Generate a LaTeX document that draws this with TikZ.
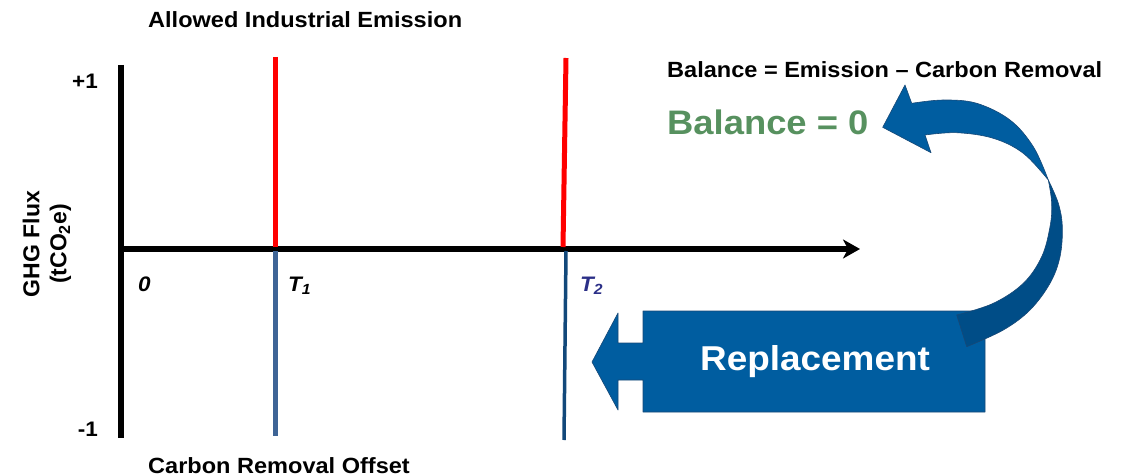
\documentclass[tikz,border=0pt]{standalone}
\usepackage{fontspec}
\setmainfont{Liberation Sans}
\newfontfamily\labfont[FakeStretch=1.07]{Liberation Sans}
\usetikzlibrary{arrows.meta}
\definecolor{boxblue}{RGB}{0,93,160}
\definecolor{darkband}{RGB}{0,77,135}
\definecolor{edgeblue}{RGB}{24,72,118}
\definecolor{redline}{RGB}{255,0,0}
\definecolor{tonebl}{RGB}{62,100,150}
\definecolor{ttwobl}{RGB}{18,72,122}
\definecolor{ttwotxt}{RGB}{43,47,135}
\definecolor{balgreen}{RGB}{87,145,95}
\tikzset{
  lab/.style={inner sep=0pt, font=\labfont\bfseries\fontsize{22}{26}\selectfont},
  tick/.style={inner sep=0pt, font=\labfont\bfseries\itshape\fontsize{21}{24}\selectfont},
  axisline/.style={line width=5.5pt, black},
  bandedge/.style={draw=edgeblue, line width=0.6pt, line join=round},
}
\begin{document}
\begin{tikzpicture}[x=1pt,y=-1pt]
\useasboundingbox (0,0) rectangle (1130,476);
% axes
\coordinate (ytop) at (121,65);
\coordinate (ybot) at (121,438);
\coordinate (orig) at (118.5,249);
\coordinate (xend) at (860,249);
\draw[axisline] (ytop) -- (ybot);
\draw[axisline, -{Stealth[length=17pt,width=19pt,inset=5pt]}] (orig) -- (xend);
% T1 lines
\coordinate (t1top) at (275,57);
\coordinate (t1mid) at (275,247);
\coordinate (t1mid2) at (275,251);
\coordinate (t1bot) at (275,436);
\draw[redline, line width=5pt] (t1top) -- (t1mid);
\draw[tonebl, line width=5pt] (t1mid2) -- (t1bot);
% T2 lines
\coordinate (t2top) at (566,58);
\coordinate (t2mid) at (563,247);
\coordinate (t2mid2) at (566,251);
\coordinate (t2bot) at (564,440);
\draw[redline, line width=5pt] (t2top) -- (t2mid);
\draw[ttwobl, line width=3.5pt] (t2mid2) -- (t2bot);
% labels
\node[lab, anchor=base west] (allowed) at (148,28) {Allowed Industrial Emission};
\node[lab, anchor=base west] (offset) at (148,473) {Carbon Removal Offset};
\node[lab, anchor=base west] (formula) at (667,78) {Balance = Emission – Carbon Removal};
\node[inner sep=0pt, anchor=base west, text=balgreen, font=\labfont\bfseries\fontsize{34}{38}\selectfont] (bal) at (667,135) {Balance = 0};
\node[inner sep=0pt, anchor=base east, font=\labfont\bfseries\fontsize{21}{24}\selectfont] (plus) at (98,89) {+1};
\node[inner sep=0pt, anchor=base east, font=\labfont\bfseries\fontsize{21}{24}\selectfont] (minus) at (98,436) {-1};
\node[inner sep=0pt, rotate=90, align=center, font=\bfseries\fontsize{23}{27}\selectfont] (ghg) at (47,244) {GHG Flux\\(tCO\textsubscript{2}e)};
\node[tick, anchor=base west] (zero) at (138,291) {0};
\node[tick, anchor=base west] (tone) at (288,291) {T\textsubscript{1}};
\node[tick, anchor=base west, text=ttwotxt] (ttwo) at (580,291) {T\textsubscript{2}};
% replacement block arrow
\filldraw[fill=boxblue, bandedge] (592,362) -- (618,313) -- (618,343) -- (643,343) -- (643,311) -- (985,311) -- (985,412) -- (643,412) -- (643,380) -- (618,380) -- (618,410) -- cycle;
\node[inner sep=0pt, text=white, font=\labfont\bfseries\fontsize{34.5}{38}\selectfont] (repl) at (815,362) {Replacement};
% curved arrow, light face
\filldraw[fill=boxblue, bandedge] (905,85) -- (911.7,103.3)
  -- plot[smooth, tension=0.6] coordinates {(911.7,103.3) (943.3,100) (976.7,103.3) (1010,120) (1033.3,146.7) (1048.3,180)}
  -- plot[smooth, tension=0.6] coordinates {(1048.3,180) (1023.3,153.3) (993.3,138.3) (956.7,132.7) (925,135)}
  -- (931,152.7) -- (882.7,127.3) -- cycle;
% curved arrow, dark face
\filldraw[fill=darkband, bandedge] plot[smooth, tension=0.6] coordinates {(1048.3,180) (1058.3,203.3) (1062.3,226.7) (1060,256.7) (1050,283.3) (1030,310) (1003.3,330) (966.7,346.7)}
  -- (956.7,315)
  -- plot[smooth, tension=0.6] coordinates {(956.7,315) (993.3,303.3) (1023.3,283.3) (1041.7,256.7) (1050,226.7) (1051.7,203.3) (1048.3,180)} -- cycle;
\end{tikzpicture}
\end{document}
